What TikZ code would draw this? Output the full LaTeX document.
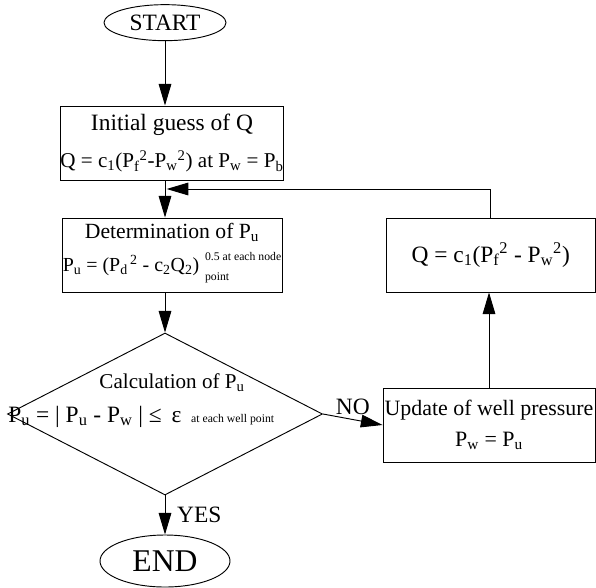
\documentclass[tikz,border=0pt]{standalone}
\usepackage{fontspec}
\setmainfont{Liberation Serif}
\usetikzlibrary{shapes.geometric, arrows.meta}

\newcommand{\sbs}[1]{\textsubscript{#1}}
\newcommand{\sps}[1]{\textsuperscript{#1}}
\newcommand{\note}[1]{{\fontsize{10}{17}\selectfont #1}}

\begin{document}
\begin{tikzpicture}[>={Triangle[length=6.5mm,width=3.8mm]}, line width=0.8pt,
    term/.style={ellipse, draw, inner sep=0pt},
    box/.style={rectangle, draw, inner sep=0pt, minimum height=2.22cm, align=center},
    lbl/.style={font=\fontsize{20}{24}\selectfont}]
    \useasboundingbox (0,0) rectangle (17.88,-17.61);

    \node [term, minimum width=3.66cm, minimum height=1.08cm, font=\fontsize{20}{24}\selectfont] (start) at (4.95, -0.68) {START};
    \node [box, minimum width=6.6cm, font=\fontsize{18}{29}\selectfont] (init) at (5.16, -4.29) {{\fontsize{20}{24}\selectfont Initial guess of Q} \\[3pt] Q = c\sbs{1}(P\sbs{f}\sps{2}-P\sbs{w}\sps{2}) at P\sbs{w} = P\sbs{b}};
    \node [box, minimum width=6.6cm, font=\fontsize{18.5}{28}\selectfont] (det) at (5.16, -7.65) {Determination of P\sbs{u} \\ {\fontsize{17}{28}\selectfont P\sbs{u} = (P\sbs{d}\sps{\,2} - c\sbs{2}Q\sbs{2})}\hspace{5pt}\raisebox{-8pt}{\note{\begin{tabular}[b]{@{}l@{}}0.5 at each node\\point\end{tabular}}}};
    \node [diamond, draw, inner sep=0pt, minimum width=9.45cm, minimum height=4.86cm] (calc) at (4.95, -12.42) {};
    \node [anchor=base, font=\fontsize{18}{22}\selectfont] (calctop) at (5.16, -11.64) {Calculation of P\sbs{u}};
    \node [anchor=base west, inner sep=0pt, font=\fontsize{20}{24}\selectfont] (calcbot) at (0.24, -12.66) {P\sbs{u} = | P\sbs{u} - P\sbs{w} | ≤ \,ε \,\note{at each well point}};
    \node [term, minimum width=3.9cm, minimum height=1.56cm, font=\fontsize{27}{30}\selectfont] (end) at (4.95, -16.83) {END};

    \node [box, minimum width=6.27cm, font=\fontsize{20}{24}\selectfont] (qbox) at (14.72, -7.65) {Q = c\sbs{1}(P\sbs{f}\sps{2} - P\sbs{w}\sps{2})};
    \node [box, minimum width=6.36cm, font=\fontsize{18.7}{26}\selectfont] (upd) at (14.67, -12.75) {Update of well pressure \\ P\sbs{w} = P\sbs{u}};
    \coordinate (fb) at (5.0, -5.67);

    \draw [->] (start.south) -- (start.south |- init.north);
    \draw [->] (start.south |- init.south) -- (start.south |- det.north);
    \draw [->] (start.south |- det.south) -- (calc.north);
    \draw [->] (calc.east) -- node [lbl, above, inner sep=4pt] {NO} (upd.west);
    \draw [->] (calc.south) -- node [lbl, right, inner sep=10pt] {YES} (end.north);
    \draw [->] (upd.north) -- (upd.north |- qbox.south);
    \draw [->] (qbox.north) |- (fb);
\end{tikzpicture}
\end{document}
